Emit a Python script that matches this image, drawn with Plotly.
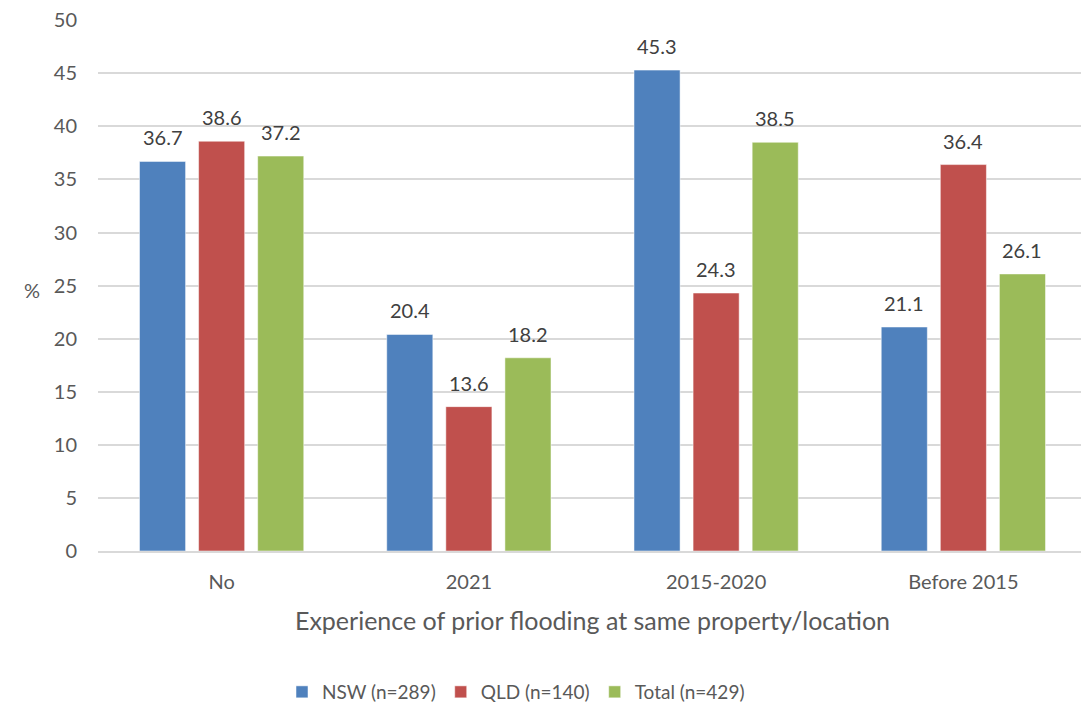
import plotly.graph_objects as go

categories = ["No", "2021", "2015-2020", "Before 2015"]
nsw = [36.7, 20.4, 45.3, 21.1]
qld = [38.6, 13.6, 24.3, 36.4]
total = [37.2, 18.2, 38.5, 26.1]

series = [
    ("NSW (n=289)", nsw, "#4F81BD"),
    ("QLD (n=140)", qld, "#C0504D"),
    ("Total (n=429)", total, "#9BBB59"),
]

FONT = "Lato, Open Sans, sans-serif"
TXT = "#595959"
BARGAP = 0.283
GROUPGAP = 0.22

# the page body has an 8px margin, so the figure is a little smaller
W, H = 1081, 696
L, R, T, B = 90, 2, 12, 153
plot_w = W - L - R
plot_h = H - T - B

fig = go.Figure()
annotations = []
slot = (1 - BARGAP) / len(series)
for k, (name, vals, color) in enumerate(series):
    fig.add_trace(go.Bar(
        x=categories, y=vals, name=name,
        marker_color=color,
    ))
    # value labels, lifted a little above the bar tops
    for i, v in enumerate(vals):
        annotations.append(dict(
            x=i + (k - 1) * slot, y=v, xref="x", yref="y",
            text=f"{v:.1f}", showarrow=False,
            yanchor="bottom", yshift=10,
            font=dict(size=20, color="#404040", family=FONT),
        ))

annotations.append(dict(
    text="%", x=(24 - L) / plot_w, y=(T + plot_h - 282) / plot_h,
    xref="paper", yref="paper", showarrow=False,
    xanchor="center", yanchor="middle",
    font=dict(size=20, color=TXT),
))

fig.update_layout(
    template="plotly_white",
    width=W, height=H,
    barmode="group",
    bargap=BARGAP,
    bargroupgap=GROUPGAP,
    margin=dict(l=L, r=R, t=T, b=B, autoexpand=False),
    font=dict(family=FONT, color=TXT, size=20),
    plot_bgcolor="white",
    paper_bgcolor="white",
    xaxis=dict(
        title=dict(text="Experience of prior flooding at same property/location",
                   font=dict(size=25, color=TXT), standoff=20),
        tickfont=dict(size=20, color=TXT),
        showline=True, linecolor="#D9D9D9", linewidth=2,
        ticks="", showgrid=False, automargin=False, ticklabelstandoff=12,
    ),
    yaxis=dict(
        range=[0, 50.02], tickvals=list(range(0, 51, 5)),
        tickfont=dict(size=20, color=TXT),
        gridcolor="#D9D9D9", gridwidth=2,
        zeroline=False, ticks="", ticklabelstandoff=20, automargin=False,
        ticklabeloverflow="allow",
    ),
    legend=dict(
        orientation="h", x=(508 - L) / plot_w, xanchor="center",
        y=(T + plot_h - 684) / plot_h, yanchor="middle",
        font=dict(size=19, color=TXT), traceorder="normal", itemwidth=30,
    ),
    annotations=annotations,
)

fig.write_html("out.html")
